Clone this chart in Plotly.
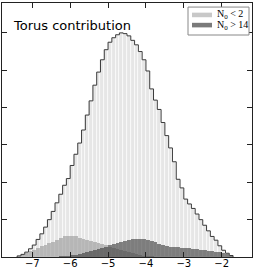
import numpy as np
import plotly.graph_objects as go

# ---- data ----
bin_start = -7.4
bin_width = 0.1
total = [0.03, 0.07, 0.13, 0.22, 0.32, 0.47, 0.62, 0.80, 1.00, 1.22,
         1.45, 1.68, 1.92, 2.10, 2.45, 2.75, 3.05, 3.40, 3.80, 4.18,
         4.60, 4.95, 5.28, 5.55, 5.75, 5.87, 5.95, 6.00, 5.98, 5.92,
         5.80, 5.68, 5.50, 5.28, 4.98, 4.50, 4.20, 3.95, 3.60, 3.25,
         2.92, 2.55, 2.08, 1.85, 1.55, 1.42, 1.30, 1.15, 1.00, 0.85,
         0.70, 0.55, 0.45, 0.30, 0.18, 0.10, 0.04]
n0_lt2 = [0.02, 0.06, 0.10, 0.15, 0.20, 0.25, 0.29, 0.33, 0.37, 0.41,
          0.46, 0.51, 0.55, 0.57, 0.56, 0.55, 0.52, 0.48, 0.45, 0.42,
          0.40, 0.37, 0.34, 0.31, 0.28, 0.25, 0.22, 0.19, 0.16, 0.13,
          0.10, 0.08, 0.06, 0.04, 0.03, 0.02, 0.01, 0, 0, 0,
          0, 0, 0, 0, 0, 0, 0, 0, 0, 0,
          0, 0, 0, 0, 0, 0, 0]
n0_gt14 = [0, 0, 0, 0, 0, 0, 0, 0, 0, 0,
           0.01, 0.02, 0.03, 0.04, 0.05, 0.06, 0.08, 0.10, 0.13, 0.16,
           0.19, 0.22, 0.25, 0.28, 0.31, 0.35, 0.38, 0.41, 0.43, 0.45,
           0.47, 0.48, 0.48, 0.47, 0.45, 0.42, 0.39, 0.35, 0.32, 0.30,
           0.28, 0.27, 0.26, 0.25, 0.24, 0.23, 0.22, 0.21, 0.20, 0.19,
           0.17, 0.16, 0.14, 0.13, 0.10, 0.07, 0.04]
x_ticks = [-7, -6, -5, -4, -3, -2]
title_text = "Torus contribution"
legend_labels = ["N<sub>0</sub> &lt; 2", "N<sub>0</sub> &gt; 14"]

n = len(total)
edges = bin_start + bin_width * np.arange(n + 1)
centers = edges[:-1] + bin_width / 2

fig = go.Figure()
fig.add_trace(go.Bar(x=centers, y=total, width=bin_width,
                     marker=dict(color="#e6e6e6", line=dict(color="white", width=0.6)),
                     showlegend=False))
fig.add_trace(go.Bar(x=centers, y=n0_lt2, width=bin_width,
                     marker=dict(color="rgba(150,150,150,0.6)", line=dict(width=0)),
                     showlegend=False))
fig.add_trace(go.Bar(x=centers, y=n0_gt14, width=bin_width,
                     marker=dict(color="rgba(55,55,55,0.6)", line=dict(width=0)),
                     showlegend=False))
step_x = np.concatenate([[edges[0]], edges[:-1], [edges[-1]]])
step_y = np.concatenate([[0], total, [0]])
fig.add_trace(go.Scatter(x=step_x, y=step_y, mode="lines", line_shape="hv",
                         line=dict(color="#3a3a3a", width=1), showlegend=False,
                         hoverinfo="skip"))

axis_common = dict(showline=True, linecolor="#222", linewidth=1, mirror="allticks",
                   ticks="inside", ticklen=5, tickwidth=1, tickcolor="#222",
                   showgrid=False, zeroline=False, automargin=False)
fig.update_xaxes(range=[-7.8, -1.2], tickvals=x_ticks,
                 ticktext=["\u2212" + str(abs(t)) for t in x_ticks],
                 tickfont=dict(family="DejaVu Sans", size=10, color="black"),
                 ticklabelstandoff=-3, **axis_common)
fig.update_yaxes(range=[0, 6.8], dtick=1, showticklabels=False, **axis_common)

shapes = [
    dict(type="rect", xref="paper", yref="paper", x0=0.744, x1=0.988, y0=0.874, y1=0.984,
         line=dict(color="#888", width=1), fillcolor="white"),
    dict(type="rect", xref="paper", yref="paper", x0=0.76, x1=0.84, y0=0.944, y1=0.962,
         line=dict(width=0), fillcolor="#c8c8c8"),
    dict(type="rect", xref="paper", yref="paper", x0=0.76, x1=0.84, y0=0.904, y1=0.922,
         line=dict(width=0), fillcolor="#7a7a7a"),
]
annotations = [
    dict(text=title_text, xref="paper", yref="paper", x=0.036, y=0.913,
         xanchor="left", yanchor="middle", showarrow=False,
         font=dict(family="DejaVu Sans", size=13, color="black")),
    dict(text=legend_labels[0], xref="paper", yref="paper", x=0.852, y=0.953,
         xanchor="left", yanchor="middle", showarrow=False,
         font=dict(family="Liberation Serif", size=10, color="black")),
    dict(text=legend_labels[1], xref="paper", yref="paper", x=0.852, y=0.913,
         xanchor="left", yanchor="middle", showarrow=False,
         font=dict(family="Liberation Serif", size=10, color="black")),
]

fig.update_layout(width=258, height=268, margin=dict(l=2, r=6, t=3, b=11),
                  barmode="overlay", bargap=0, plot_bgcolor="white",
                  paper_bgcolor="white", shapes=shapes, annotations=annotations)
fig.write_html("out.html", config={"displayModeBar": False},
               post_script="document.body.style.margin='0';document.body.style.padding='0';")
